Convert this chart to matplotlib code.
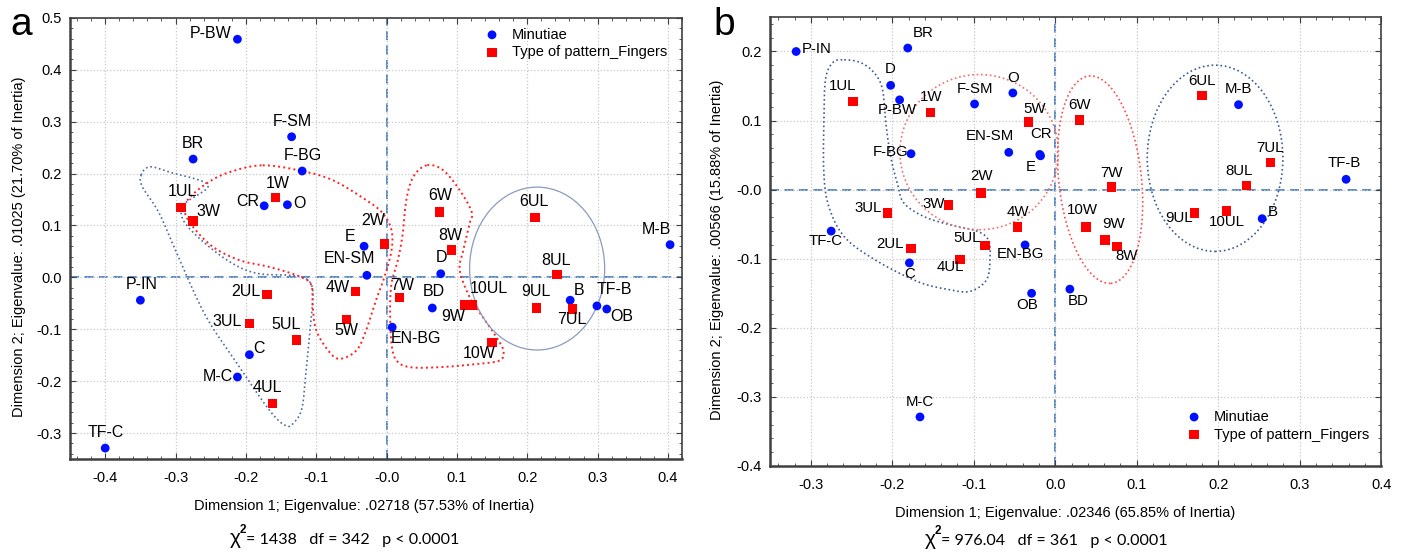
import numpy as np
import matplotlib.pyplot as plt
from matplotlib.patches import Ellipse
from matplotlib.ticker import MultipleLocator, FormatStrFormatter

plt.rcParams['font.family'] = ['Liberation Sans', 'DejaVu Sans']
plt.rcParams['axes.unicode_minus'] = False

# ---------------- panel a data ----------------
a_min_names = ['P-BW', 'BR', 'F-SM', 'F-BG', 'CR', 'O', 'E', 'EN-SM', 'D', 'M-B',
               'P-IN', 'C', 'M-C', 'TF-C', 'BD', 'EN-BG', 'B', 'TF-B', 'OB']
a_min_x = [-0.212, -0.275, -0.135, -0.120, -0.174, -0.141, -0.032, -0.028, 0.077, 0.403,
           -0.350, -0.195, -0.212, -0.400, 0.065, 0.008, 0.261, 0.299, 0.313]
a_min_y = [0.459, 0.228, 0.271, 0.205, 0.138, 0.140, 0.060, 0.004, 0.007, 0.063,
           -0.044, -0.149, -0.192, -0.329, -0.059, -0.096, -0.044, -0.055, -0.061]

a_fin_names = ['1UL', '3W', '1W', '6W', '6UL', '2W', '8W', '8UL', '4W', '7W',
               '9W', '10UL', '5W', '10W', '9UL', '7UL', '2UL', '3UL', '5UL', '4UL']
a_fin_x = [-0.292, -0.275, -0.158, 0.075, 0.211, -0.003, 0.092, 0.242, -0.044, 0.018,
           0.111, 0.122, -0.057, 0.150, 0.213, 0.264, -0.170, -0.195, -0.128, -0.162]
a_fin_y = [0.135, 0.109, 0.154, 0.126, 0.115, 0.064, 0.053, 0.005, -0.027, -0.039,
           -0.053, -0.053, -0.081, -0.126, -0.059, -0.061, -0.033, -0.089, -0.121, -0.243]

# ---------------- panel b data ----------------
b_min_names = ['P-IN', 'BR', 'D', 'P-BW', 'F-SM', 'O', 'EN-SM', 'CR', 'E', 'F-BG',
               'TF-C', 'EN-BG', 'C', 'OB', 'M-C', 'M-B', 'B', 'TF-B', 'BD']
b_min_x = [-0.318, -0.181, -0.202, -0.191, -0.099, -0.052, -0.057, -0.019, -0.018, -0.177,
           -0.275, -0.037, -0.179, -0.029, -0.166, 0.225, 0.254, 0.357, 0.018]
b_min_y = [0.200, 0.205, 0.151, 0.130, 0.124, 0.140, 0.054, 0.051, 0.049, 0.052,
           -0.060, -0.080, -0.106, -0.150, -0.329, 0.123, -0.042, 0.015, -0.144]

b_fin_names = ['1UL', '1W', '5W', '2W', '3W', '3UL', '4W', '5UL', '2UL', '4UL',
               '6W', '7W', '10W', '9W', '8W', '6UL', '7UL', '8UL', '9UL', '10UL']
b_fin_x = [-0.248, -0.153, -0.033, -0.091, -0.131, -0.206, -0.046, -0.086, -0.177, -0.117,
           0.030, 0.069, 0.038, 0.061, 0.076, 0.180, 0.264, 0.235, 0.171, 0.210]
b_fin_y = [0.128, 0.112, 0.098, -0.005, -0.022, -0.034, -0.054, -0.081, -0.085, -0.101,
           0.101, 0.004, -0.054, -0.073, -0.082, 0.136, 0.039, 0.006, -0.034, -0.031]

# label offsets (pixels, dx right, dy up)
a_offsets = {'P-BW': (-27, 6), 'BR': (0, 16), 'F-SM': (1, 15), 'F-BG': (1, 16), 'CR': (-16, 4),
             'O': (12, 1), 'E': (-14, 10), 'EN-SM': (-17, 17), 'D': (1, 16), 'M-B': (-14, 15),
             'P-IN': (1, 16), 'C': (10, 6), 'M-C': (-20, 1), 'TF-C': (1, 16), 'BD': (1, 16),
             'EN-BG': (24, -11), 'B': (9, 10), 'TF-B': (17, 16), 'OB': (15, -7),
             '1UL': (1, 16), '3W': (15, 9), '1W': (2, 14), '6W': (1, 17), '6UL': (-1, 16),
             '2W': (-11, 24), '8W': (-1, 14), '8UL': (-1, 14), '4W': (-18, 4), '7W': (3, 12),
             '9W': (-11, -12), '10UL': (16, 16), '5W': (0, -11), '10W': (-13, -11),
             '9UL': (0, 16), '7UL': (0, -10), '2UL': (-21, 3), '3UL': (-22, 2),
             '5UL': (-10, 16), '4UL': (-5, 16)}
b_offsets = {'P-IN': (21, 2), 'BR': (15, 15), 'D': (0, 16), 'P-BW': (-2, -10), 'F-SM': (0, 15),
             'O': (0, 15), 'EN-SM': (-19, 16), 'CR': (1, 20), 'E': (-10, -11), 'F-BG': (-20, 2),
             'TF-C': (-6, -10), 'EN-BG': (-5, -9), 'C': (0, -11), 'OB': (-4, -12), 'M-C': (0, 15),
             'M-B': (0, 16), 'B': (11, 7), 'TF-B': (-2, 16), 'BD': (8, -12),
             '1UL': (-11, 15), '1W': (1, 15), '5W': (6, 13), '2W': (0, 17), '3W': (-15, 1),
             '3UL': (-19, 5), '4W': (0, 15), '5UL': (-18, 8), '2UL': (-21, 4), '4UL': (-10, -8),
             '6W': (0, 15), '7W': (0, 14), '10W': (-4, 17), '9W': (9, 16), '8W': (9, -10),
             '6UL': (0, 15), '7UL': (0, 15), '8UL': (-8, 15), '9UL': (-15, -5), '10UL': (1, -11)}

# hand drawn group outlines (control points)
a_blue_x = [-0.349, -0.337, -0.309, -0.254, -0.287, -0.290, -0.266, -0.223, -0.185, -0.138,
            -0.114, -0.105, -0.107, -0.114, -0.120, -0.131, -0.143, -0.166, -0.209, -0.256,
            -0.294, -0.323, -0.347]
a_blue_y = [0.197, 0.213, 0.203, 0.178, 0.142, 0.113, 0.075, 0.030, 0.008, 0.004,
            -0.003, -0.025, -0.077, -0.173, -0.250, -0.279, -0.286, -0.257, -0.173, -0.077,
            0.033, 0.123, 0.174]
a_red1_x = [-0.176, -0.120, -0.076, -0.029, -0.005, 0.007, 0.007, -0.003, -0.015, -0.029,
            -0.043, -0.067, -0.083, -0.100, -0.105, -0.107, -0.124, -0.166, -0.209, -0.247,
            -0.275, -0.287, -0.283, -0.256, -0.223]
a_red1_y = [0.216, 0.205, 0.187, 0.149, 0.123, 0.091, 0.052, 0.001, -0.044, -0.102,
            -0.141, -0.157, -0.141, -0.102, -0.057, -0.015, 0.002, 0.020, 0.033, 0.059,
            0.097, 0.126, 0.149, 0.181, 0.203]
a_red2_x = [0.057, 0.038, 0.028, 0.023, 0.016, 0.007, 0.005, 0.007, 0.014, 0.033, 0.076,
            0.128, 0.161, 0.166, 0.156, 0.137, 0.118, 0.104, 0.109, 0.118, 0.121, 0.104, 0.080]
a_red2_y = [0.216, 0.194, 0.149, 0.084, 0.033, -0.012, -0.064, -0.128, -0.160, -0.173, -0.173,
            -0.167, -0.160, -0.141, -0.115, -0.077, -0.038, 0.014, 0.052, 0.104, 0.126, 0.168, 0.207]
b_blue_x = [-0.259, -0.239, -0.222, -0.212, -0.208, -0.202, -0.194, -0.186, -0.161, -0.129,
            -0.096, -0.082, -0.080, -0.084, -0.104, -0.129, -0.169, -0.222, -0.259, -0.278,
            -0.284, -0.284, -0.282, -0.273]
b_blue_y = [0.188, 0.184, 0.169, 0.145, 0.097, 0.048, 0.010, -0.019, -0.039, -0.051,
            -0.060, -0.073, -0.097, -0.130, -0.147, -0.145, -0.133, -0.101, -0.068, -0.024,
            0.024, 0.097, 0.159, 0.184]


def smooth_closed(xs, ys, n=24):
    p = np.column_stack([xs, ys])
    N = len(p)
    t = np.linspace(0, 1, n, endpoint=False)[:, None]
    out = []
    for i in range(N):
        p0, p1, p2, p3 = p[i - 1], p[i], p[(i + 1) % N], p[(i + 2) % N]
        out.append(0.5 * (2 * p1 + (-p0 + p2) * t + (2 * p0 - 5 * p1 + 4 * p2 - p3) * t ** 2
                          + (-p0 + 3 * p1 - 3 * p2 + p3) * t ** 3))
    out.append(out[0][:1])
    out = np.vstack(out)
    return out[:, 0], out[:, 1]


def style_axes(ax, xlim, ylim, xt, yt):
    ax.xaxis.set_minor_locator(MultipleLocator(0.02))
    ax.yaxis.set_minor_locator(MultipleLocator(0.02))
    ax.xaxis.set_major_formatter(FormatStrFormatter('%.1f'))
    ax.yaxis.set_major_formatter(FormatStrFormatter('%.1f'))
    ax.set_xticks(xt)
    ax.set_yticks(yt)
    ax.set_xlim(*xlim)
    ax.set_ylim(*ylim)
    ax.grid(True, which='major', color='#c8c8c8', linestyle=':', linewidth=0.9)
    ax.tick_params(which='both', direction='in', top=True, right=True, colors='#404040',
                   labelcolor='black', labelsize=10.5)
    ax.tick_params(which='major', length=4)
    ax.tick_params(which='minor', length=2.5)
    ax.tick_params(axis='x', pad=9)
    ax.tick_params(axis='y', pad=6)
    for s in ax.spines.values():
        s.set_color('#404040')
        s.set_linewidth(1.2)
    ax.spines['left'].set_linewidth(1.8)
    ax.spines['bottom'].set_linewidth(1.8)
    ax.axhline(0, color='#4a80c4', ls=(0, (5, 3)), lw=1.3, zorder=1)
    ax.axvline(0, color='#4a80c4', ls=(0, (5, 3)), lw=1.3, zorder=1)


def draw_points(ax, names, xs, ys, kind, offsets, fs):
    if kind == 'min':
        ax.scatter(xs, ys, s=40, c='#0010ff', marker='o', zorder=4, label='Minutiae',
                   edgecolors='none')
    else:
        ax.scatter(xs, ys, s=46, c='#ff0000', marker='s', zorder=4,
                   label='Type of pattern_Fingers', edgecolors='none')
    for n, x, y in zip(names, xs, ys):
        dx, dy = offsets[n]
        ax.annotate(n, (x, y), xytext=(dx, dy), textcoords='offset pixels',
                    ha='center', va='center', fontsize=fs, zorder=5)


def chi_text(x, y, rest):
    W, H = 1406, 556
    fig.text(x / W, 1 - y / H, 'χ', fontsize=15, ha='left', va='baseline')
    fig.text((x + 10) / W, 1 - (y - 11) / H, '2', fontsize=8.5, fontweight='bold',
             ha='left', va='baseline')
    fig.text((x + 16) / W, 1 - y / H, rest, fontsize=11.6, ha='left', va='baseline',
             family=['Lato', 'DejaVu Sans'])


fig = plt.figure(figsize=(14.06, 5.56), dpi=100)
axa = fig.add_axes([0.0498, 0.1745, 0.4353, 0.7932])
axb = fig.add_axes([0.5477, 0.1619, 0.4346, 0.8076])

# ---- panel a ----
style_axes(axa, (-0.45, 0.42), (-0.35, 0.5), np.arange(-0.4, 0.41, 0.1), np.arange(-0.3, 0.51, 0.1))
bx, by = smooth_closed(a_blue_x, a_blue_y)
axa.plot(bx, by, color='#4f6a9c', ls=':', lw=1.2, zorder=2)
rx, ry = smooth_closed(a_red1_x, a_red1_y)
axa.plot(rx, ry, color='#ff2020', ls=':', lw=1.4, zorder=2)
rx, ry = smooth_closed(a_red2_x, a_red2_y)
axa.plot(rx, ry, color='#ff2020', ls=':', lw=1.4, zorder=2)
axa.add_patch(Ellipse((0.214, 0.017), 0.192, 0.314, fill=False, ec='#8a9ac0', lw=0.9, zorder=2))
draw_points(axa, a_min_names, a_min_x, a_min_y, 'min', a_offsets, 11.5)
draw_points(axa, a_fin_names, a_fin_x, a_fin_y, 'fin', a_offsets, 11.5)
axa.legend(loc='upper left', bbox_to_anchor=(0.6776, 0.978), frameon=False, fontsize=10.5,
           handlelength=1, handletextpad=0.85, labelspacing=0.25, borderpad=0, borderaxespad=0)

# ---- panel b ----
style_axes(axb, (-0.35, 0.4), (-0.4, 0.25), np.arange(-0.3, 0.41, 0.1), np.arange(-0.4, 0.21, 0.1))
bx, by = smooth_closed(b_blue_x, b_blue_y)
axb.plot(bx, by, color='#3d5a94', ls=':', lw=1.2, zorder=2)
axb.add_patch(Ellipse((-0.0933, 0.0543), 0.1946, 0.2246, fill=False, ec='#f07070', ls=':',
                      lw=1.2, zorder=2))
axb.add_patch(Ellipse((0.0551, 0.0145), 0.1016, 0.3014, angle=5, fill=False, ec='#ff4848', ls=':',
                      lw=1.2, zorder=2))
axb.add_patch(Ellipse((0.1962, 0.0454), 0.1665, 0.2696, fill=False, ec='#3d5a94', ls=':',
                      lw=1.2, zorder=2))
draw_points(axb, b_min_names, b_min_x, b_min_y, 'min', b_offsets, 10.8)
draw_points(axb, b_fin_names, b_fin_x, b_fin_y, 'fin', b_offsets, 10.8)
axb.legend(loc='upper left', bbox_to_anchor=(0.682, 0.125), frameon=False, fontsize=10.5,
           handlelength=1, handletextpad=0.85, labelspacing=0.25, borderpad=0, borderaxespad=0)

# ---- figure texts ----
W, H = 1406, 556
fig.text(10 / W, 1 - 35 / H, 'a', fontsize=28, ha='left', va='baseline')
fig.text(713 / W, 1 - 35 / H, 'b', fontsize=28, ha='left', va='baseline')
fig.text(19 / W, 1 - 247 / H, 'Dimension 2; Eigenvalue: .01025 (21.70% of Inertia)',
         rotation=90, ha='center', va='center', fontsize=10.5)
fig.text(717.5 / W, 1 - 250 / H, 'Dimension 2; Eigenvalue: .00566 (15.88% of Inertia)',
         rotation=90, ha='center', va='center', fontsize=10.5)
fig.text(364.5 / W, 1 - 506 / H, 'Dimension 1; Eigenvalue: .02718 (57.53% of Inertia)',
         ha='center', va='center', fontsize=10.5)
fig.text(1065.5 / W, 1 - 512.5 / H, 'Dimension 1; Eigenvalue: .02346 (65.85% of Inertia)',
         ha='center', va='center', fontsize=10.5)
chi_text(230, 544, '= 1438   df = 342   p < 0.0001')
chi_text(925, 545, '= 976.04   df = 361   p < 0.0001')

fig.savefig('out.png', dpi=100)
